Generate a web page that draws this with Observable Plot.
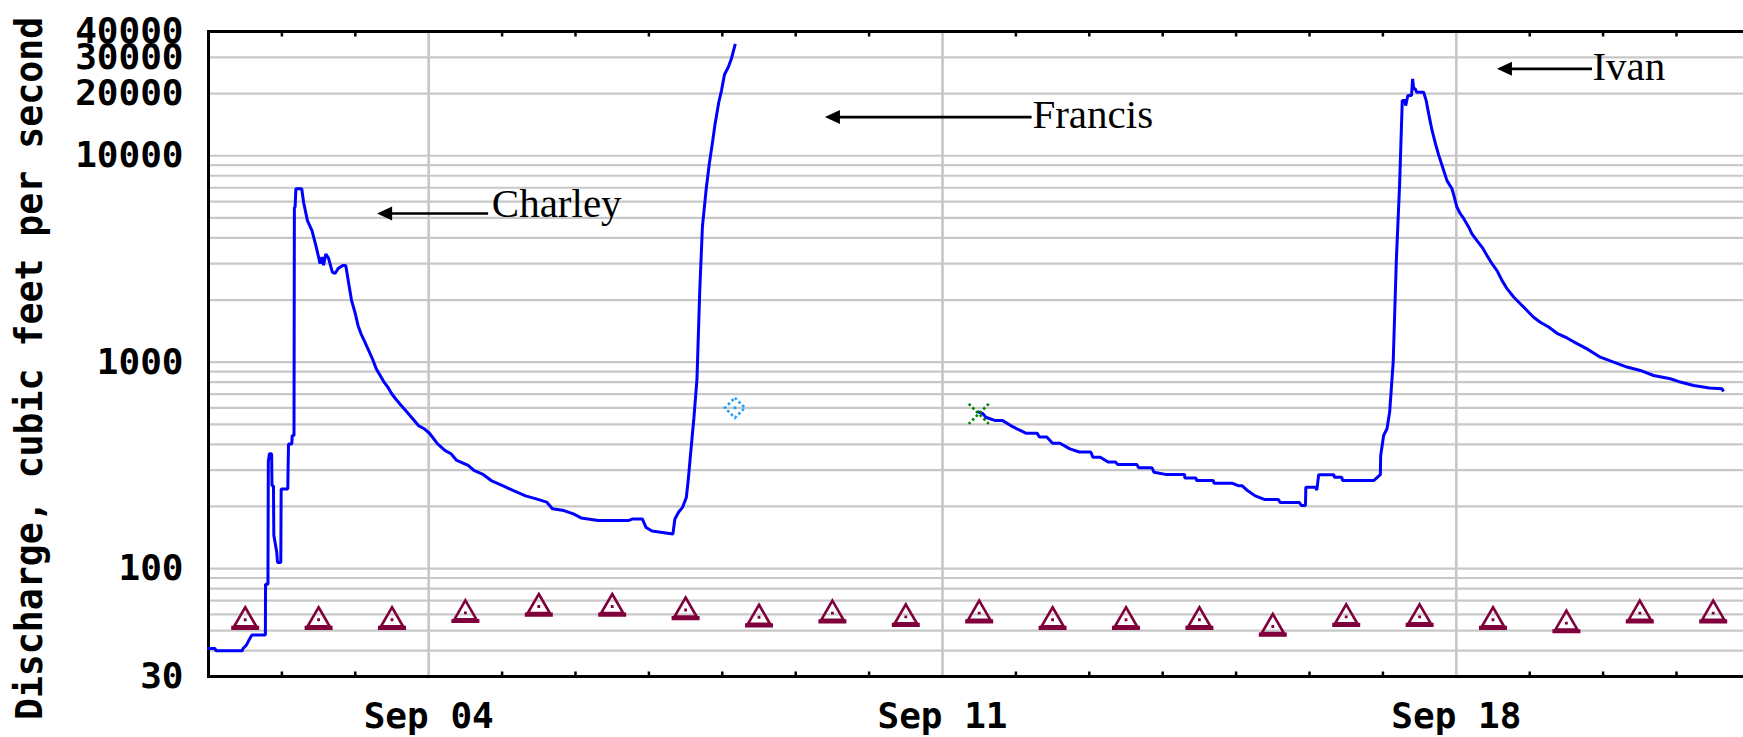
<!DOCTYPE html>
<html>
<head>
<meta charset="utf-8">
<script src="https://cdn.jsdelivr.net/npm/d3@7"></script>
<script src="https://cdn.jsdelivr.net/npm/@observablehq/plot@0.6"></script>
<style>
html, body { margin: 0; padding: 0; background: #ffffff; overflow: hidden; }
</style>
</head>
<body>
<div id="chart"></div>
<script>
// ---------- data (day offsets from 2004-09-01 00:00 UTC, discharge in cfs) ----------
const startDate = "2004-09-01";
const xTickDates = ["2004-09-04", "2004-09-11", "2004-09-18"];
const dayTickOffsets = [1, 2, 4, 5, 6, 7, 8, 9, 11, 12, 13, 14, 15, 16, 18, 19, 20];
const yTickValues = [30, 100, 1000, 10000, 20000, 30000, 40000];
const yGridValues = [40, 50, 60, 70, 80, 90, 100, 200, 300, 400, 500, 600, 700, 800, 900,
  1000, 2000, 3000, 4000, 5000, 6000, 7000, 8000, 9000, 10000, 20000, 30000];
const yTitle = "Discharge, cubic feet per second";

// Discharge, first record (Sep 1 - Sep 8)
const seg1Day = [0.00, 0.09, 0.10, 0.46, 0.47, 0.51, 0.55, 0.59, 0.775, 0.777, 0.81, 0.815, 0.83, 0.86,
  0.865, 0.885, 0.89, 0.93, 0.94, 0.985, 0.99, 1.08, 1.09, 1.135, 1.14, 1.165, 1.17, 1.18, 1.19, 1.27,
  1.296, 1.348, 1.41, 1.469, 1.52, 1.547, 1.567, 1.598, 1.635, 1.687, 1.723, 1.766, 1.828, 1.87, 1.911,
  1.948, 2.000, 2.037, 2.078, 2.131, 2.183, 2.234, 2.286, 2.339, 2.391, 2.443, 2.496, 2.548, 2.625,
  2.704, 2.782, 2.860, 2.938, 3.016, 3.121, 3.225, 3.304, 3.382, 3.538, 3.616, 3.747, 3.851, 4.007,
  4.163, 4.320, 4.476, 4.607, 4.685, 4.842, 4.971, 5.076, 5.311, 5.728, 5.780, 5.910, 5.962, 6.041,
  6.327, 6.354, 6.406, 6.458, 6.510, 6.535, 6.572, 6.614, 6.655, 6.692, 6.729, 6.781, 6.823, 6.864,
  6.900, 6.952, 6.989, 7.030, 7.083, 7.125, 7.172];
const seg1Cfs = [41, 41, 40, 40, 41, 42.3, 44.9, 47.6, 47.6, 84, 84, 330, 360, 360,
  252, 252, 145, 120, 107, 107, 243, 243, 401, 401, 441, 441, 5634, 5634, 6918, 6918,
  5940, 4850, 4340, 3600, 3000, 3230, 2950, 3340, 3190, 2730, 2690, 2840, 2940, 2940, 2400,
  2000, 1716, 1507, 1372, 1249, 1137, 1036, 928, 862, 801, 757, 703, 665, 617,
  573, 532, 493, 476, 450, 402, 373, 360, 334, 316, 299, 285, 267, 252,
  238, 225, 217, 210, 195, 191, 184, 176, 171, 171, 174, 174, 158, 152,
  147, 174, 188, 198, 221, 267, 373, 541, 830, 2183, 4520, 6920, 9150, 11450,
  14140, 18160, 20700, 24760, 26900, 29600, 34300];

// Discharge, second record (Sep 11 - Sep 21)
const seg2Day = [10.494, 10.55, 10.59, 10.72, 10.82, 10.93, 11.03, 11.135, 11.29, 11.32, 11.42, 11.50,
  11.60, 11.735, 11.865, 12.02, 12.05, 12.15, 12.256, 12.36, 12.387, 12.647, 12.673, 12.855, 12.88,
  13.038, 13.299, 13.30, 13.455, 13.46, 13.69, 13.70, 13.951, 14.03, 14.08, 14.16, 14.26, 14.394,
  14.576, 14.60, 14.863, 14.889, 14.945, 14.95, 15.08, 15.10, 15.125, 15.33, 15.34, 15.44, 15.45,
  15.874, 15.92, 15.965, 15.97, 16.01, 16.056, 16.092, 16.14, 16.183, 16.228, 16.264, 16.30, 16.31,
  16.34, 16.39, 16.405, 16.42, 16.441, 16.46, 16.555, 16.59, 16.623, 16.669, 16.714, 16.759, 16.805,
  16.873, 16.941, 16.973, 17.009, 17.054, 17.10, 17.168, 17.213, 17.281, 17.35, 17.418, 17.486,
  17.554, 17.622, 17.691, 17.781, 17.872, 17.963, 18.053, 18.144, 18.258, 18.372, 18.508, 18.644,
  18.781, 18.962, 19.143, 19.325, 19.507, 19.688, 19.916, 20.052, 20.233, 20.45, 20.62, 20.63];
const seg2Cfs = [573, 563, 541, 521, 521, 493, 472, 453, 453, 434, 434, 405,
  405, 380, 367, 367, 346, 346, 328, 328, 319, 319, 308, 308, 293,
  286, 286, 275, 275, 267, 267, 259, 259, 252, 252, 238, 225, 216,
  216, 209, 209, 202, 202, 248, 248, 240, 285, 285, 277, 277, 267,
  267, 276, 285, 353, 442, 476, 573, 998, 3110, 7320, 18500, 18500, 17500,
  19600, 19600, 23600, 21100, 21100, 20300, 20300, 18500, 16000, 13300, 11500, 10100, 9000,
  7580, 6920, 6300, 5630, 5240, 4970, 4520, 4180, 3880, 3610, 3290, 3000,
  2780, 2490, 2270, 2070, 1920, 1780, 1650, 1560, 1480, 1380, 1310, 1230,
  1160, 1057, 1000, 947, 912, 862, 831, 801, 771, 750, 744, 732];

// Daily median statistic (triangles), at noon of each day
const medianDay = [0.5, 1.5, 2.5, 3.5, 4.5, 5.5, 6.5, 7.5, 8.5, 9.5, 10.5, 11.5, 12.5, 13.5, 14.5,
  15.5, 16.5, 17.5, 18.5, 19.5, 20.5];
const medianCfs = [56.5, 56.5, 56.5, 61, 65.5, 65.5, 63, 58.1, 60.8, 58.4, 60.8, 56.5, 56.5, 56.5, 52.4,
  58.4, 58.4, 56.5, 54.4, 60.8, 60.8];

// Single measurements
const diamondDay = [7.172];
const diamondCfs = [601];
const crossDay = [10.494];
const crossCfs = [562];

// Storm annotations
const stormNames = ["Charley", "Francis", "Ivan"];
const arrowTipDay = [2.297, 8.398, 17.554];
const arrowTailDay = [3.809, 11.214, 18.849];
const arrowCfs = [5250, 15390, 26370];
const labelDay = [3.86, 11.225, 18.855];
const labelCfs = [5040, 13600, 23160];

// ---------- helpers ----------
const t0 = Date.parse(startDate + "T00:00:00Z");
const toDate = (d) => new Date(t0 + d * 864e5);
const seg1 = seg1Day.map((d, i) => ({date: toDate(d), cfs: seg1Cfs[i]}));
const seg2 = seg2Day.map((d, i) => ({date: toDate(d), cfs: seg2Cfs[i]}));
const medians = medianDay.map((d, i) => ({date: toDate(d), cfs: medianCfs[i]}));
const diamonds = diamondDay.map((d, i) => ({date: toDate(d), cfs: diamondCfs[i]}));
const crosses = crossDay.map((d, i) => ({date: toDate(d), cfs: crossCfs[i]}));
const dayTicks = dayTickOffsets.map(toDate);
const xTicks = xTickDates.map((s) => new Date(s + "T00:00:00Z"));

// custom glyphs (shape only; position comes from scales)
const tickDown = {draw(c) { c.moveTo(0, 0); c.lineTo(0, 5); }};
const tickUp = {draw(c) { c.moveTo(0, 0); c.lineTo(0, -5); }};
const triOutline = {draw(c) { c.moveTo(0, -12.5); c.lineTo(11, 6.5); c.lineTo(-11, 6.5); c.closePath(); }};
const triFill = {draw(c) { c.rect(-14, 6, 28, 4.2); c.rect(-1.4, -1.4, 2.8, 2.8); }};
const diamondOutline = {draw(c) { c.moveTo(0, -10); c.lineTo(10, 0); c.lineTo(0, 10); c.lineTo(-10, 0); c.closePath(); }};
const centerDot = {draw(c) { c.rect(-1.4, -1.4, 2.8, 2.8); }};
const crossShape = {draw(c) { c.moveTo(-10, -10); c.lineTo(10, 10); c.moveTo(10, -10); c.lineTo(-10, 10); }};
const arrowHead = {draw(c) { c.moveTo(0, 0); c.lineTo(15, -7); c.lineTo(15, 7); c.closePath(); }};

const monoFont = "'DejaVu Sans Mono', 'Liberation Mono', monospace";
const serifFont = "'Liberation Serif', 'DejaVu Serif', serif";

const chart = Plot.plot({
  width: 1743,
  height: 737,
  marginLeft: 208,
  marginRight: -6.4,
  marginTop: 31,
  marginBottom: 61,
  style: {
    background: "#ffffff",
    fontFamily: monoFont,
    fontWeight: "bold",
    fontSize: "36px",
    color: "#000000"
  },
  x: {
    type: "utc",
    domain: [toDate(0), toDate(21)],
    ticks: xTicks,
    tickFormat: d3.utcFormat("%b %d"),
    tickSize: 0,
    tickPadding: 26,
    label: null
  },
  y: {
    type: "log",
    domain: [30, 40000],
    axis: null
  },
  marks: [
    Plot.ruleY(yGridValues, {stroke: "#c8c8c8", strokeWidth: 2.2}),
    Plot.ruleX(xTicks, {stroke: "#c8c8c8", strokeWidth: 2.7}),
    Plot.frame({stroke: "#000000", strokeWidth: 3}),
    Plot.dot(dayTicks, {x: (d) => d, frameAnchor: "top", symbol: tickDown, stroke: "#000000", strokeWidth: 2.5, fill: "none"}),
    Plot.dot(dayTicks, {x: (d) => d, frameAnchor: "bottom", symbol: tickUp, stroke: "#000000", strokeWidth: 2.5, fill: "none"}),
    // y tick labels
    Plot.text(yTickValues, {
      y: (d) => d, text: (d) => String(d), frameAnchor: "left", dx: -25,
      textAnchor: "end", lineAnchor: "middle",
      fontFamily: monoFont, fontWeight: "bold", fontSize: 36, fill: "#000000"
    }),
    Plot.line(seg1, {x: "date", y: "cfs", stroke: "#0000ff", strokeWidth: 3, strokeLinejoin: "miter", strokeLinecap: "square"}),
    Plot.line(seg2, {x: "date", y: "cfs", stroke: "#0000ff", strokeWidth: 3, strokeLinejoin: "miter", strokeLinecap: "square"}),
    Plot.dot(medians, {x: "date", y: "cfs", symbol: triOutline, stroke: "#80003c", strokeWidth: 2.6, fill: "none"}),
    Plot.dot(medians, {x: "date", y: "cfs", symbol: triFill, fill: "#80003c", stroke: "none"}),
    Plot.dot(diamonds, {x: "date", y: "cfs", symbol: diamondOutline, stroke: "#1ea0ff", strokeWidth: 2.6, strokeDasharray: "2.6,2.6", fill: "none"}),
    Plot.dot(diamonds, {x: "date", y: "cfs", symbol: centerDot, fill: "#1ea0ff", stroke: "none"}),
    Plot.dot(crosses, {x: "date", y: "cfs", symbol: crossShape, stroke: "#008000", strokeWidth: 2.6, strokeDasharray: "2.6,2.6", fill: "none"}),
    Plot.link(stormNames, {
      x1: (d, i) => toDate(arrowTailDay[i]), x2: (d, i) => toDate(arrowTipDay[i] + 0.1),
      y1: (d, i) => arrowCfs[i], y2: (d, i) => arrowCfs[i],
      stroke: "#000000", strokeWidth: 2.6
    }),
    Plot.dot(stormNames, {
      x: (d, i) => toDate(arrowTipDay[i]), y: (d, i) => arrowCfs[i],
      symbol: arrowHead, fill: "#000000", stroke: "none"
    }),
    Plot.text(stormNames, {
      x: (d, i) => toDate(labelDay[i]), y: (d, i) => labelCfs[i], text: (d) => d,
      textAnchor: "start", lineAnchor: "bottom",
      fontFamily: serifFont, fontWeight: "normal", fontSize: 41, fill: "#000000"
    }),
    Plot.text([yTitle], {
      text: (d) => d, frameAnchor: "left", rotate: -90, dx: -167, dy: 14.5,
      lineAnchor: "bottom", textAnchor: "middle",
      fontFamily: monoFont, fontWeight: "bold", fontSize: 36.5, fill: "#000000"
    })
  ]
});
document.getElementById("chart").appendChild(chart);
</script>
</body>
</html>
